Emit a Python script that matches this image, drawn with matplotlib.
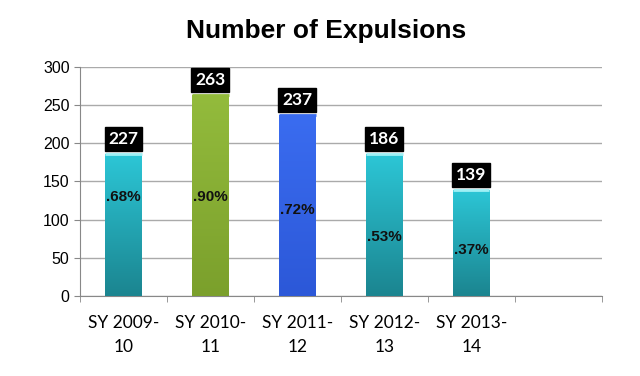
import numpy as np
import matplotlib.pyplot as plt
from matplotlib.colors import LinearSegmentedColormap

# data
categories = ['SY 2009-\n10', 'SY 2010-\n11', 'SY 2011-\n12', 'SY 2012-\n13', 'SY 2013-\n14']
bar_heights = [186, 263, 237, 186, 139]      # drawn heights
count_labels = ['227', '263', '237', '186', '139']
pct_labels = ['.68%', '.90%', '.72%', '.53%', '.37%']
pct_y = [130, 130, 112, 77, 60]
bar_colors = [('#2cc6d6', '#1b8590'), ('#93bb3c', '#7ba02c'), ('#3a6cf0', '#2c58d8'),
              ('#2cc6d6', '#1b8590'), ('#2cc6d6', '#1b8590')]

plt.rcParams['font.family'] = ['Liberation Sans', 'DejaVu Sans']

fig = plt.figure(figsize=(6.4, 3.76), dpi=100)
ax = fig.add_axes([0.125, 0.213, 0.815, 0.609])

x = np.arange(len(categories))
width = 0.42
bars = ax.bar(x, bar_heights, width=width, color='none', zorder=3)

# vertical gradient fill for each bar
for b, (c_top, c_bot) in zip(bars, bar_colors):
    cmap = LinearSegmentedColormap.from_list('g', [c_bot, c_top])
    x0, y0 = b.get_x(), b.get_y()
    w, h = b.get_width(), b.get_height()
    grad = np.linspace(0, 1, 100).reshape(-1, 1)
    im = ax.imshow(grad, cmap=cmap, extent=[x0, x0 + w, y0, y0 + h],
                   origin='lower', aspect='auto', zorder=3)
    im.set_clip_path(b)
    # light rim at top
    ax.plot([x0, x0 + w], [y0 + h, y0 + h], color='#9ff0f5' if c_top == '#2cc6d6' else c_top,
            lw=2, zorder=4, solid_capstyle='butt')

for xi, h, lab in zip(x, bar_heights, count_labels):
    ax.annotate(lab, (xi, h), xytext=(0, 5), textcoords='offset points',
                ha='center', va='bottom', color='white', fontsize=12.5, fontweight='bold',
                family=['Lato', 'DejaVu Sans'],
                bbox=dict(boxstyle='square,pad=0.22', fc='black', ec='black'), zorder=5)

for xi, yv, lab in zip(x, pct_y, pct_labels):
    ax.text(xi, yv, lab, ha='center', va='center', fontsize=11, fontweight='bold',
            color='#111111', zorder=5)

ax.set_xlim(-0.5, 5.5)
ax.set_ylim(0, 300)
ax.set_yticks(range(0, 301, 50))
ax.tick_params(axis='y', labelsize=11.5, length=4, color='#888888')
ax.set_xticks(x)
ax.set_xticklabels(categories, fontsize=12.5, family=['Lato', 'DejaVu Sans'],
                   linespacing=1.6)
ax.tick_params(axis='x', length=0, pad=14)
ax.set_xticks(np.arange(-0.5, 5.6, 1), minor=True)
ax.tick_params(axis='x', which='minor', length=4, color='#888888')

ax.grid(axis='y', color='#aaaaaa', lw=1, zorder=0)
ax.set_axisbelow(True)
for s in ['top', 'right']:
    ax.spines[s].set_visible(False)
ax.spines['left'].set_color('#888888')
ax.spines['bottom'].set_color('#888888')

fig.text(0.51, 0.918, 'Number of Expulsions', ha='center', va='center',
         fontsize=19, fontweight='bold')

fig.savefig('out.png', dpi=100)
